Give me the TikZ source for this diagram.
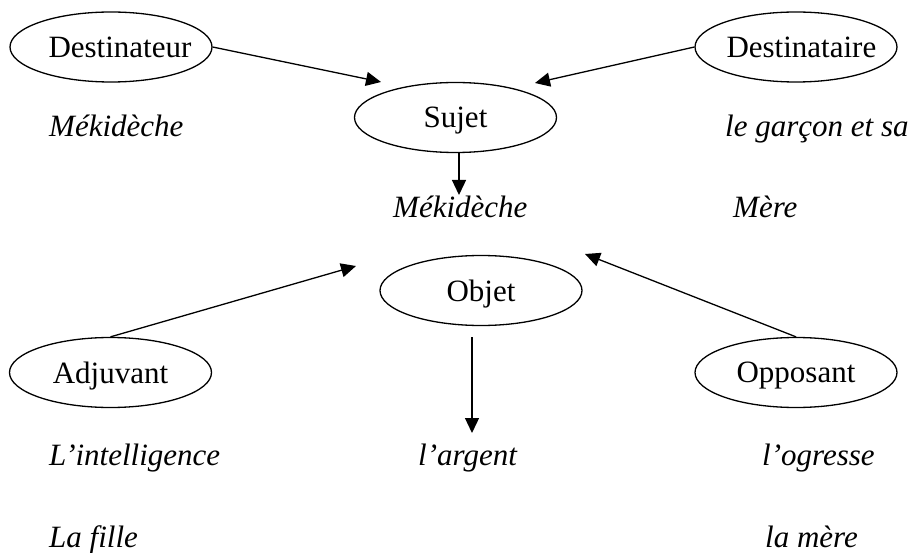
\documentclass[tikz,border=0pt]{standalone}
\usepackage{fontspec}
\setmainfont{Liberation Serif}
\usetikzlibrary{shapes.geometric,arrows.meta}
\tikzset{
  actant/.style={ellipse, draw, line width=1.3pt, minimum width=202pt, minimum height=70pt, inner sep=0pt, text depth=0pt, font=\fontsize{31}{36}\selectfont},
  lbl/.style={anchor=base west, inner sep=0pt, font=\fontsize{31}{36}\selectfont\itshape},
  arr/.style={line width=1.3pt, -{Triangle[length=15pt,width=14pt]}}
}
\begin{document}
\begin{tikzpicture}[x=1pt,y=-1pt]
\useasboundingbox (0,0) rectangle (917,553);
% actants
\node[actant] (dest) at (111,47) {\makebox[125pt][l]{Destinateur}};
\node[actant] (desta) at (796,47) {\makebox[139pt][l]{Destinataire}};
\node[actant] (suj) at (455.5,117.5) {Sujet};
\node[actant] (obj) at (481,290.5) {Objet};
\node[actant] (adj) at (110.5,372.5) {Adjuvant};
\node[actant] (opp) at (796,372.5) {Opposant};
% labels
\node[lbl] (l1) at (49,137) {Mékidèche};
\node[lbl] (l2) at (725,137) {le garçon et sa};
\node[lbl] (l3) at (393,218) {Mékidèche};
\node[lbl] (l4) at (733,218) {Mère};
\node[lbl] (l5) at (49,465) {L’intelligence};
\node[lbl] (l6) at (418,465) {l’argent};
\node[lbl] (l7) at (762,465) {l’ogresse};
\node[lbl] (l8) at (49,547) {La fille};
\node[lbl] (l9) at (765,547) {la mère};
% arrow tips / free ends
\coordinate (t1) at (381,82);
\coordinate (t2) at (535,83);
\coordinate (t3) at (459,195);
\coordinate (t4) at (356,266);
\coordinate (t5) at (585,254);
\coordinate (s6) at (472,337);
\coordinate (t6) at (472,433);
% connectors
\draw[arr] (dest.east) -- (t1);
\draw[arr] (desta.west) -- (t2);
\draw[arr] (suj.south -| t3) -- (t3);
\draw[arr] (adj.north) -- (t4);
\draw[arr] (opp.north) -- (t5);
\draw[arr] (s6) -- (t6);
\end{tikzpicture}
\end{document}
